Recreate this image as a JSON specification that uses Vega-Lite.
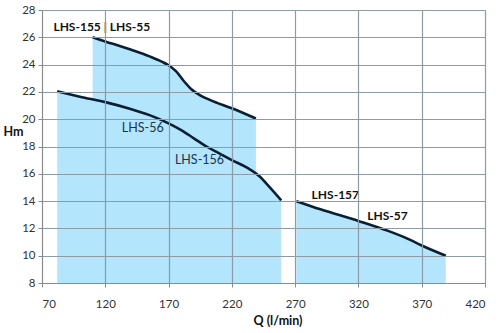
{
  "$schema": "https://vega.github.io/schema/vega-lite/v6.json",
  "width": 443,
  "height": 273,
  "autosize": "none",
  "padding": {"left": 42, "top": 10, "right": 15, "bottom": 50},
  "background": "white",
  "config": {
    "view": {"stroke": null},
    "font": "Lato",
    "axis": {
      "domainColor": "#8a8a8a",
      "tickColor": "#8a8a8a",
      "tickSize": 4,
      "labelFont": "Lato",
      "labelFontSize": 11.5,
      "labelColor": "#333333",
      "titleFont": "Lato",
      "titleFontSize": 12.5,
      "titleFontWeight": "bold",
      "titleColor": "#111111",
      "grid": true,
      "gridColor": "#8c9ba6",
      "gridWidth": 1.2
    }
  },
  "datasets": {
    "curves": [
      {"s": "A", "q": 110, "h": 26.0},
      {"s": "A", "q": 120, "h": 25.7},
      {"s": "A", "q": 140, "h": 25.1},
      {"s": "A", "q": 155, "h": 24.6},
      {"s": "A", "q": 165, "h": 24.2},
      {"s": "A", "q": 170, "h": 23.95},
      {"s": "A", "q": 176, "h": 23.5},
      {"s": "A", "q": 182, "h": 22.8},
      {"s": "A", "q": 188, "h": 22.2},
      {"s": "A", "q": 195, "h": 21.75},
      {"s": "A", "q": 203, "h": 21.4},
      {"s": "A", "q": 220, "h": 20.8},
      {"s": "A", "q": 239, "h": 20.05},
      {"s": "B", "q": 82, "h": 22.05},
      {"s": "B", "q": 100, "h": 21.65},
      {"s": "B", "q": 120, "h": 21.25},
      {"s": "B", "q": 140, "h": 20.75},
      {"s": "B", "q": 155, "h": 20.3},
      {"s": "B", "q": 170, "h": 19.7},
      {"s": "B", "q": 180, "h": 19.2},
      {"s": "B", "q": 190, "h": 18.6},
      {"s": "B", "q": 200, "h": 18.0},
      {"s": "B", "q": 210, "h": 17.5},
      {"s": "B", "q": 220, "h": 17.0},
      {"s": "B", "q": 232, "h": 16.45},
      {"s": "B", "q": 242, "h": 15.8},
      {"s": "B", "q": 250, "h": 15.0},
      {"s": "B", "q": 259, "h": 14.05},
      {"s": "C", "q": 271, "h": 14.0},
      {"s": "C", "q": 290, "h": 13.4},
      {"s": "C", "q": 320, "h": 12.55},
      {"s": "C", "q": 344, "h": 11.8},
      {"s": "C", "q": 360, "h": 11.2},
      {"s": "C", "q": 370, "h": 10.75},
      {"s": "C", "q": 389, "h": 10.0}
    ],
    "boldLabels": [
      {"q": 79, "h": 26.78, "t": "LHS-155 | LHS-55"},
      {"q": 283, "h": 14.46, "t": "LHS-157"},
      {"q": 327, "h": 12.92, "t": "LHS-57"}
    ],
    "plainLabels": [
      {"q": 133, "h": 19.34, "t": "LHS-56"},
      {"q": 175, "h": 17.02, "t": "LHS-156"}
    ]
  },
  "layer": [
    {
      "data": {"name": "curves"},
      "mark": {"type": "area", "color": "#B3E5FC", "interpolate": "monotone"},
      "encoding": {
        "x": {
          "field": "q", "type": "quantitative",
          "scale": {"domain": [70, 420], "nice": false, "zero": false},
          "axis": {"values": [70, 120, 170, 220, 270, 320, 370, 420], "title": "Q (l/min)", "labelPadding": 11, "titleAlign": "left", "titleX": 211, "titleY": 37, "titleBaseline": "middle", "zindex": 1}
        },
        "y": {
          "field": "h", "type": "quantitative",
          "scale": {"domain": [8, 28], "nice": false, "zero": false},
          "axis": {"tickCount": 10, "title": "Hm", "titleAngle": 0, "titleAlign": "left", "titleX": -39, "titleY": 121, "titleBaseline": "middle", "labelPadding": 3, "labelOverlap": false, "zindex": 1}
        },
        "detail": {"field": "s"},
        "y2": {"datum": 8}
      }
    },
    {
      "data": {"name": "curves"},
      "mark": {"type": "line", "color": "#0b1f33", "strokeWidth": 2.6, "interpolate": "monotone"},
      "encoding": {
        "x": {
          "field": "q", "type": "quantitative",
          "scale": {"domain": [70, 420], "nice": false, "zero": false},
          "axis": {"values": [70, 120, 170, 220, 270, 320, 370, 420], "title": "Q (l/min)", "labelPadding": 11, "titleAlign": "left", "titleX": 211, "titleY": 37, "titleBaseline": "middle", "zindex": 1}
        },
        "y": {
          "field": "h", "type": "quantitative",
          "scale": {"domain": [8, 28], "nice": false, "zero": false},
          "axis": {"tickCount": 10, "title": "Hm", "titleAngle": 0, "titleAlign": "left", "titleX": -39, "titleY": 121, "titleBaseline": "middle", "labelPadding": 3, "labelOverlap": false, "zindex": 1}
        },
        "detail": {"field": "s"}
      }
    },
    {
      "data": {"name": "boldLabels"},
      "mark": {"type": "text", "align": "left", "baseline": "middle", "fontSize": 12, "fontWeight": "bold", "color": "#111111", "font": "Lato"},
      "encoding": {
        "x": {
          "field": "q", "type": "quantitative",
          "scale": {"domain": [70, 420], "nice": false, "zero": false},
          "axis": {"values": [70, 120, 170, 220, 270, 320, 370, 420], "title": "Q (l/min)", "labelPadding": 11, "titleAlign": "left", "titleX": 211, "titleY": 37, "titleBaseline": "middle", "zindex": 1}
        },
        "y": {
          "field": "h", "type": "quantitative",
          "scale": {"domain": [8, 28], "nice": false, "zero": false},
          "axis": {"tickCount": 10, "title": "Hm", "titleAngle": 0, "titleAlign": "left", "titleX": -39, "titleY": 121, "titleBaseline": "middle", "labelPadding": 3, "labelOverlap": false, "zindex": 1}
        },
        "text": {"field": "t"}
      }
    },
    {
      "data": {"name": "plainLabels"},
      "mark": {"type": "text", "align": "left", "baseline": "middle", "fontSize": 12.5, "color": "#1b3550", "font": "Lato"},
      "encoding": {
        "x": {
          "field": "q", "type": "quantitative",
          "scale": {"domain": [70, 420], "nice": false, "zero": false},
          "axis": {"values": [70, 120, 170, 220, 270, 320, 370, 420], "title": "Q (l/min)", "labelPadding": 11, "titleAlign": "left", "titleX": 211, "titleY": 37, "titleBaseline": "middle", "zindex": 1}
        },
        "y": {
          "field": "h", "type": "quantitative",
          "scale": {"domain": [8, 28], "nice": false, "zero": false},
          "axis": {"tickCount": 10, "title": "Hm", "titleAngle": 0, "titleAlign": "left", "titleX": -39, "titleY": 121, "titleBaseline": "middle", "labelPadding": 3, "labelOverlap": false, "zindex": 1}
        },
        "text": {"field": "t"}
      }
    }
  ]
}
